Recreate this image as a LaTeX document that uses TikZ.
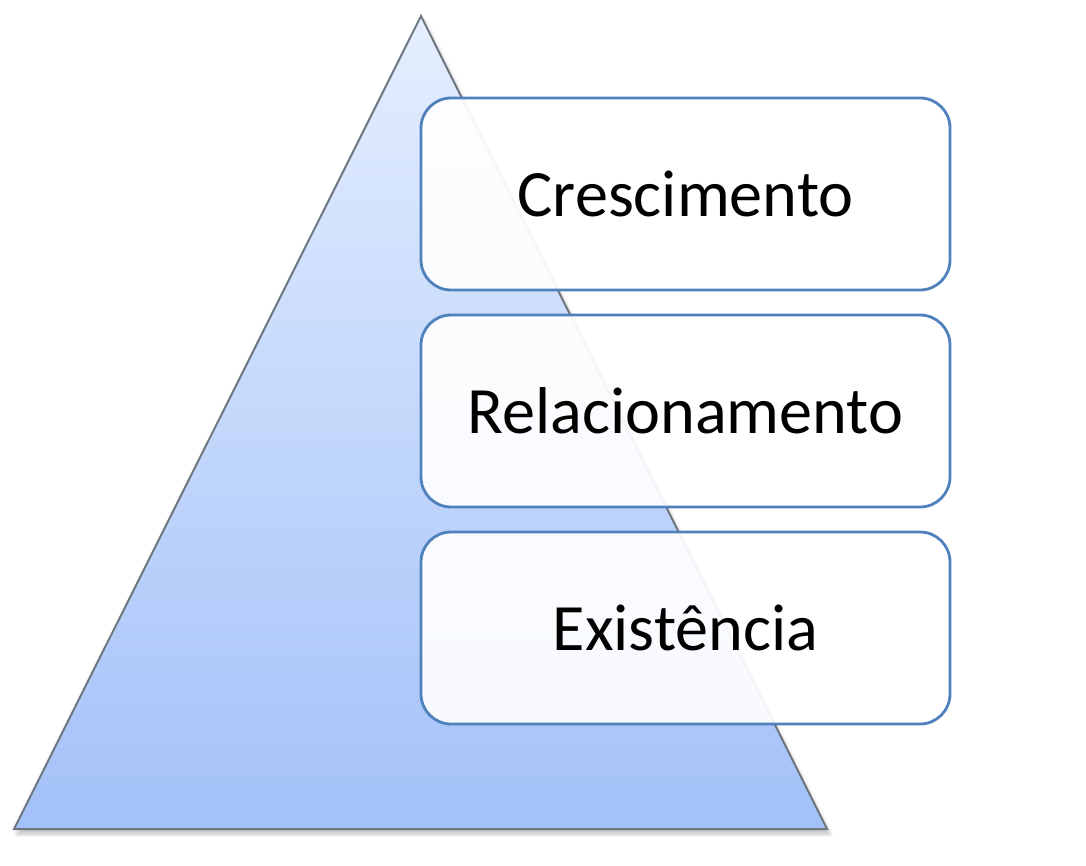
\documentclass[tikz,border=0pt]{standalone}
\usepackage{fontspec}
\setmainfont{Carlito}
\usetikzlibrary{shadows.blur}
\definecolor{tritop}{HTML}{E4EEFE}
\definecolor{tribot}{HTML}{A3C1F9}
\definecolor{triline}{HTML}{6E7680}
\definecolor{boxline}{HTML}{4F81BD}
\tikzset{
  pyramid/.style={draw=triline, line width=1pt, top color=tritop, bottom color=tribot,
    blur shadow={shadow xshift=1.5pt, shadow yshift=-2.5pt, shadow blur steps=6, shadow opacity=25}},
  level/.style={draw=boxline, line width=1.4pt, fill=white, fill opacity=0.92, text opacity=1,
    rounded corners=15pt, minimum width=264.5pt, minimum height=96pt, inner sep=0pt,
    font=\fontsize{33.1}{40}\selectfont}
}
\begin{document}
\begin{tikzpicture}[x=0.5pt,y=-0.5pt]
\useasboundingbox (0,0) rectangle (1086,866);
\coordinate (apex) at (421,16);
\coordinate (bl) at (14,829);
\coordinate (br) at (827,829);
\path[pyramid] (apex) -- (br) -- (bl) -- cycle;
\node[level] (c) at (685.5,194) {Crescimento};
\node[level] (r) at (685.5,411) {Relacionamento};
\node[level] (e) at (685.5,628) {Existência};
\end{tikzpicture}
\end{document}
